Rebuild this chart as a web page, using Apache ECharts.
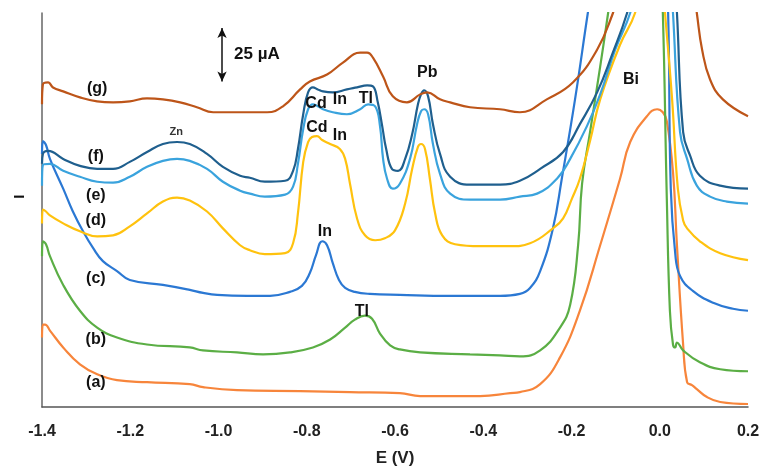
<!DOCTYPE html>
<html><head><meta charset="utf-8">
<script src="https://cdn.jsdelivr.net/npm/echarts@6/dist/echarts.min.js"></script>
<style>html,body{margin:0;padding:0;background:#fff}#c{width:763px;height:472px}</style>
</head><body><div id="c"></div>
<script>
// Potential E (V) vs current I (arbitrary, offset traces)
const curveA = [[-1.400,70],[-1.398,83],[-1.393,83],[-1.382,77],[-1.352,60],[-1.314,43],[-1.275,33],[-1.230,27],[-1.162,25],[-1.065,23],[-1.035,20],[-0.958,17],[-0.815,16],[-0.702,15],[-0.589,14],[-0.543,11],[-0.407,11],[-0.339,14],[-0.317,15],[-0.271,23],[-0.226,50],[-0.181,97],[-0.135,163],[-0.090,230],[-0.067,267],[-0.029,293],[-0.006,300],[0.007,297],[0.016,288],[0.030,237],[0.039,163],[0.053,63],[0.062,25],[0.073,22],[0.084,18],[0.107,10],[0.137,5],[0.200,3]];
const curveB = [[-1.400,152],[-1.398,167],[-1.391,164],[-1.382,152],[-1.352,123],[-1.314,97],[-1.275,80],[-1.230,70],[-1.162,63],[-1.065,60],[-1.035,57],[-0.958,55],[-0.899,53],[-0.838,55],[-0.786,60],[-0.747,68],[-0.713,80],[-0.691,88],[-0.668,92],[-0.652,89],[-0.634,74],[-0.611,62],[-0.589,58],[-0.543,55],[-0.430,53],[-0.362,52],[-0.317,51],[-0.271,57],[-0.226,80],[-0.203,103],[-0.185,163],[-0.176,225],[-0.158,277],[-0.135,343],[-0.117,397],[-0.113,410],[0.003,410],[0.007,397],[0.016,210],[0.023,97],[0.030,63],[0.035,60],[0.039,65],[0.053,57],[0.091,45],[0.137,38],[0.200,36]];
const curveC = [[-1.400,255],[-1.398,268],[-1.391,264],[-1.382,250],[-1.352,220],[-1.330,197],[-1.307,177],[-1.284,160],[-1.262,147],[-1.230,137],[-1.201,128],[-1.126,123],[-1.065,118],[-1.035,115],[-1.003,113],[-0.935,112],[-0.883,112],[-0.838,116],[-0.811,122],[-0.793,135],[-0.779,153],[-0.765,167],[-0.754,163],[-0.741,145],[-0.727,128],[-0.713,120],[-0.691,116],[-0.657,114],[-0.589,113],[-0.475,112],[-0.362,112],[-0.317,114],[-0.294,120],[-0.271,137],[-0.242,180],[-0.222,230],[-0.192,310],[-0.163,397],[-0.158,410],[0.014,410],[0.019,397],[0.025,220],[0.035,155],[0.046,132],[0.075,117],[0.121,105],[0.166,99],[0.200,97]];
const curveD = [[-1.400,185],[-1.398,199],[-1.391,197],[-1.382,193],[-1.352,185],[-1.314,177],[-1.275,172],[-1.239,173],[-1.201,182],[-1.162,195],[-1.126,207],[-1.094,211],[-1.065,208],[-1.026,197],[-0.990,180],[-0.951,163],[-0.929,158],[-0.895,154],[-0.849,155],[-0.831,165],[-0.820,195],[-0.808,247],[-0.797,267],[-0.788,272],[-0.777,273],[-0.765,269],[-0.747,265],[-0.725,260],[-0.713,250],[-0.702,225],[-0.686,190],[-0.668,173],[-0.645,168],[-0.623,170],[-0.600,178],[-0.577,205],[-0.561,240],[-0.548,262],[-0.541,265],[-0.532,260],[-0.521,230],[-0.509,195],[-0.493,173],[-0.464,164],[-0.407,162],[-0.339,162],[-0.294,165],[-0.242,180],[-0.219,190],[-0.199,210],[-0.181,230],[-0.158,268],[-0.135,310],[-0.090,365],[-0.056,397],[-0.052,410],[0.010,410],[0.012,397],[0.028,310],[0.041,220],[0.053,188],[0.062,180],[0.091,167],[0.137,155],[0.200,148]];
const curveE = [[-1.400,223],[-1.398,244],[-1.382,245],[-1.352,238],[-1.314,232],[-1.275,227],[-1.239,226],[-1.201,232],[-1.162,242],[-1.126,248],[-1.094,250],[-1.065,248],[-1.026,240],[-0.990,227],[-0.951,218],[-0.929,215],[-0.895,212],[-0.849,214],[-0.831,222],[-0.820,245],[-0.808,280],[-0.797,300],[-0.786,305],[-0.775,303],[-0.763,300],[-0.741,297],[-0.709,295],[-0.679,300],[-0.661,305],[-0.645,303],[-0.634,283],[-0.627,250],[-0.618,230],[-0.605,220],[-0.589,225],[-0.566,250],[-0.550,285],[-0.541,298],[-0.534,300],[-0.525,295],[-0.514,265],[-0.498,235],[-0.475,215],[-0.430,209],[-0.362,209],[-0.317,212],[-0.278,215],[-0.233,230],[-0.203,250],[-0.165,283],[-0.135,315],[-0.101,360],[-0.067,397],[-0.063,410],[0.028,410],[0.030,397],[0.046,277],[0.062,250],[0.084,223],[0.114,212],[0.152,207],[0.200,205]];
const curveF = [[-1.400,245],[-1.398,255],[-1.386,258],[-1.352,250],[-1.314,243],[-1.275,240],[-1.239,240],[-1.201,247],[-1.162,257],[-1.126,265],[-1.094,267],[-1.065,265],[-1.026,255],[-0.990,242],[-0.951,233],[-0.929,231],[-0.895,227],[-0.849,228],[-0.831,238],[-0.820,260],[-0.808,295],[-0.797,317],[-0.786,322],[-0.775,320],[-0.763,318],[-0.741,317],[-0.709,320],[-0.686,322],[-0.663,324],[-0.650,323],[-0.639,307],[-0.629,283],[-0.620,260],[-0.607,240],[-0.593,238],[-0.577,250],[-0.561,275],[-0.548,305],[-0.541,315],[-0.534,319],[-0.525,313],[-0.514,285],[-0.498,255],[-0.475,232],[-0.430,224],[-0.362,224],[-0.317,228],[-0.271,240],[-0.219,257],[-0.181,285],[-0.142,317],[-0.108,355],[-0.074,397],[-0.070,410],[0.037,410],[0.039,397],[0.053,277],[0.069,253],[0.091,233],[0.137,223],[0.200,220]];
const curveG = [[-1.400,305],[-1.398,325],[-1.386,327],[-1.375,322],[-1.352,318],[-1.314,312],[-1.275,308],[-1.239,307],[-1.201,308],[-1.162,311],[-1.126,310],[-1.087,307],[-1.049,302],[-1.012,297],[-0.967,297],[-0.890,297],[-0.854,303],[-0.815,320],[-0.793,328],[-0.754,335],[-0.718,347],[-0.679,357],[-0.663,357],[-0.650,352],[-0.627,333],[-0.605,313],[-0.573,307],[-0.543,315],[-0.527,317],[-0.498,310],[-0.475,307],[-0.430,302],[-0.362,300],[-0.317,297],[-0.256,310],[-0.197,327],[-0.142,360],[-0.106,397],[-0.099,410],[0.080,410],[0.084,397],[0.096,360],[0.114,330],[0.143,310],[0.200,293]];

const xTicks = [-1.4,-1.2,-1.0,-0.8,-0.6,-0.4,-0.2,0.0,0.2];
const traceNames = ['(a)','(b)','(c)','(d)','(e)','(f)','(g)'];
const traceColors = ['#F7853B','#5BAE45','#2B78D3','#FFC20E','#3AA3DD','#1F5F8E','#BD5519'];
const traces = [curveA,curveB,curveC,curveD,curveE,curveF,curveG];
// annotation anchors in data coordinates [text, E, I]
const traceLabels = [['(a)',-1.278,25],['(b)',-1.278,68],['(c)',-1.278,129],['(d)',-1.278,188],['(e)',-1.278,213],['(f)',-1.278,252],['(g)',-1.275,321]];
const peakLabels = [['Cd',-0.779,306],['In',-0.725,310],['Tl',-0.666,311],['Cd',-0.777,282],['In',-0.725,273],['Pb',-0.527,337],['In',-0.759,177],['Tl',-0.675,96],['Bi',-0.065,330]];
const znLabel = ['Zn',-1.096,277];
const scaleBar = {E:-0.992, top:382, bottom:328, text:'25 µA', textE:-0.913, textI:355};
const yNameI = 212;

const FONT = "'Liberation Sans Narrow','Liberation Sans',Arial,sans-serif";
const chart = echarts.init(document.getElementById('c'), null, {renderer:'canvas'});
const series = traces.map((d,i)=>({
  type:'line', name:traceNames[i], data:d, showSymbol:false, smooth:0.45,
  clip:true, lineStyle:{color:traceColors[i], width:2.2}, itemStyle:{color:traceColors[i]}, z:2+i
}));
series[0].markLine = {
  silent:true, symbol:['arrow','arrow'], symbolSize:[7,10],
  lineStyle:{color:'#111', width:1.5, type:'solid'}, label:{show:false},
  data:[[{coord:[scaleBar.E, scaleBar.top]},{coord:[scaleBar.E, scaleBar.bottom]}]]
};
chart.setOption({
  animation:false,
  grid:{left:42, right:15, top:13, bottom:62},
  xAxis:{type:'value', min:-1.4, max:0.2, interval:0.2,
    name:'E (V)', nameLocation:'middle', nameGap:43,
    nameTextStyle:{fontFamily:FONT, fontWeight:'bold', fontSize:17, color:'#222'},
    axisLine:{show:true, onZero:false, lineStyle:{color:'#555', width:1.5}},
    axisTick:{show:false}, splitLine:{show:false},
    axisLabel:{fontFamily:FONT, fontWeight:'bold', fontSize:16, color:'#222', margin:17,
      formatter:v=>Math.abs(v)<1e-9?'0.0':v.toFixed(1)}},
  yAxis:{type:'value', min:0, max:397,
    axisLine:{show:true, onZero:false, lineStyle:{color:'#666', width:1.5}},
    axisTick:{show:false}, axisLabel:{show:false}, splitLine:{show:false}},
  series:series
});
const g = [];
const px = (e,i)=>chart.convertToPixel({gridIndex:0},[e,i]);
traceLabels.forEach(l=>{const p=px(l[1],l[2]); g.push({type:'text', x:p[0], y:p[1], style:{text:l[0], fill:'#111', font:"bold 16px "+FONT, align:'center', verticalAlign:'middle'}, z:100});});
peakLabels.forEach(l=>{const p=px(l[1],l[2]); g.push({type:'text', x:p[0], y:p[1], style:{text:l[0], fill:'#111', font:"bold 16px "+FONT, align:'center', verticalAlign:'middle'}, z:100});});
{const p=px(znLabel[1],znLabel[2]); g.push({type:'text', x:p[0], y:p[1], style:{text:znLabel[0], fill:'#333', font:"bold 11px "+FONT, align:'center', verticalAlign:'middle'}, z:100});}
{const p=px(scaleBar.textE,scaleBar.textI); g.push({type:'text', x:p[0], y:p[1], style:{text:scaleBar.text, fill:'#111', font:"bold 17px "+FONT, align:'center', verticalAlign:'middle'}, z:100});}
{const p=px(-1.4,yNameI); g.push({type:'text', x:20, y:p[1], rotation:Math.PI/2, style:{text:'I', fill:'#111', font:"bold 15px "+FONT, align:'center', verticalAlign:'middle'}, z:100});}
chart.setOption({graphic:g});
</script></body></html>
